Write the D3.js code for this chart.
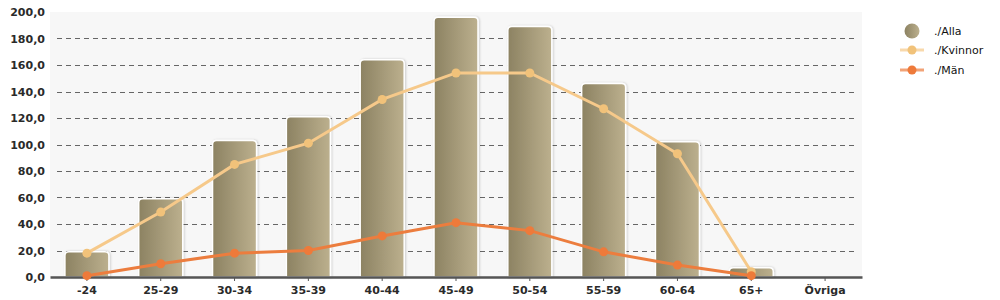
<!DOCTYPE html>
<html>
<head>
<meta charset="utf-8">
<script src="https://cdn.jsdelivr.net/npm/d3@7"></script>
<style>
  body { margin: 0; background: #fff; }
  #outer { width: 1000px; height: 300px; }
</style>
</head>
<body>
<div id="outer"></div>
<script>
// data
const categories = ['-24', '25-29', '30-34', '35-39', '40-44', '45-49', '50-54', '55-59', '60-64', '65+', 'Övriga'];
const alla = [19, 59, 103, 121, 164, 196, 189, 146, 102, 7, 0];
const kvinnor = [18, 49, 85, 101, 134, 154, 154, 127, 93, 4, null];
const man = [1, 10, 18, 20, 31, 41, 35, 19, 9, 1, null];
const yTicks = [0, 20, 40, 60, 80, 100, 120, 140, 160, 180, 200];
const legendNames = ['./Alla', './Kvinnor', './Män'];

const W = 1000, H = 300;
const plot = {left: 50, right: 862, top: 12, bottom: 277};
const barColorDark = '#8c8262', barColorLight = '#bcb08e';
const kvColor = '#f6c98a', kvDot = '#f1c27a';
const manColor = '#ec7d3e', manDot = '#ee7a3a';
const font = '"DejaVu Sans", Verdana, sans-serif';

const svg = d3.select('#outer').append('svg').attr('width', W).attr('height', H);
const defs = svg.append('defs');
const grad = defs.append('linearGradient').attr('id', 'barGrad').attr('x1', 0).attr('x2', 1).attr('y1', 0).attr('y2', 0);
grad.append('stop').attr('offset', '0%').attr('stop-color', barColorDark);
grad.append('stop').attr('offset', '100%').attr('stop-color', barColorLight);
const shadow = defs.append('filter').attr('id', 'shadow').attr('x', '-20%').attr('y', '-20%').attr('width', '140%').attr('height', '140%');
shadow.append('feDropShadow').attr('dx', 1).attr('dy', 0).attr('stdDeviation', 1.2).attr('flood-color', '#000').attr('flood-opacity', 0.18);

const x = d3.scaleBand().domain(categories).range([plot.left, plot.right]).paddingInner(0).paddingOuter(0);
const y = d3.scaleLinear().domain([0, 200]).range([plot.bottom, plot.top]);

// background
svg.append('rect')
	.attr('x', plot.left).attr('y', plot.top)
	.attr('width', plot.right - plot.left).attr('height', plot.bottom - plot.top)
	.attr('fill', '#f7f7f7');

// grid
svg.append('g').selectAll('line').data(yTicks.filter(d => d > 0 && d < 200)).join('line')
	.attr('x1', plot.left + 7).attr('x2', plot.right - 7)
	.attr('y1', d => Math.round(y(d)) + 0.5).attr('y2', d => Math.round(y(d)) + 0.5)
	.attr('stroke', '#666').attr('stroke-width', 1).attr('stroke-dasharray', '5,4');

// y labels
svg.append('g').selectAll('text').data(yTicks).join('text')
	.attr('x', 45).attr('y', d => y(d) + 4)
	.attr('text-anchor', 'end')
	.style('font', 'bold 11px ' + font).attr('fill', '#2a2a2a')
	.text(d => d3.format('.1f')(d).replace('.', ','));

// bars
const barW = 44;
const r = 4;
const barPath = (cx, top, bottom) => {
	const x0 = cx - barW / 2, x1 = cx + barW / 2;
	const h = bottom - top;
	const rr = Math.min(r, h / 2);
	return `M${x0},${bottom}V${top + rr}Q${x0},${top} ${x0 + rr},${top}H${x1 - rr}Q${x1},${top} ${x1},${top + rr}V${bottom}Z`;
};
svg.append('g').selectAll('path').data(alla.map((v, i) => ({v, c: categories[i]})).filter(d => d.v > 0)).join('path')
	.attr('d', d => barPath(x(d.c) + x.bandwidth() / 2, y(d.v), plot.bottom))
	.attr('fill', 'url(#barGrad)')
	.attr('stroke', '#fff').attr('stroke-width', 1.5)
	.attr('filter', 'url(#shadow)');

// axis
const xAxis = svg.append('g').attr('transform', `translate(0,${plot.bottom})`)
	.call(d3.axisBottom(x).tickSize(4).tickSizeOuter(0));
xAxis.select('.domain').attr('stroke', '#555').attr('stroke-width', 2.5);
xAxis.selectAll('.tick line').attr('stroke', '#555').attr('y1', 1);
xAxis.selectAll('.tick text').attr('y', 9).attr('dy', '0.71em')
	.style('font', 'bold 11px ' + font).attr('fill', '#2a2a2a');

// lines
const lineGen = d3.line()
	.defined(d => d.v !== null)
	.x(d => x(d.c) + x.bandwidth() / 2)
	.y(d => y(d.v));
const drawSeries = (vals, col, dotCol) => {
	const pts = vals.map((v, i) => ({v, c: categories[i]}));
	svg.append('path').datum(pts)
		.attr('d', lineGen)
		.attr('fill', 'none').attr('stroke', col).attr('stroke-width', 3);
	svg.append('g').selectAll('circle').data(pts.filter(d => d.v !== null)).join('circle')
		.attr('cx', d => x(d.c) + x.bandwidth() / 2)
		.attr('cy', d => y(d.v))
		.attr('r', 4.5)
		.attr('fill', dotCol);
};
drawSeries(kvinnor, kvColor, kvDot);
drawSeries(man, manColor, manDot);

// legend
const legend = svg.append('g').attr('transform', 'translate(912,0)');
const legY = [31, 50, 70];
legend.append('circle').attr('cx', 0).attr('cy', legY[0]).attr('r', 7.5).attr('fill', 'url(#barGrad)');
[[kvColor, kvDot], [manColor, manDot]].forEach(([c, dc], i) => {
	const yy = legY[i + 1];
	legend.append('line').attr('x1', -12).attr('x2', 12).attr('y1', yy).attr('y2', yy)
		.attr('stroke', c).attr('stroke-width', 3).attr('opacity', 0.7);
	legend.append('circle').attr('cx', 0).attr('cy', yy).attr('r', 4.5).attr('fill', dc);
});
legend.selectAll('text.leg').data(legendNames).join('text')
	.attr('class', 'leg')
	.attr('x', 22).attr('y', (d, i) => legY[i] + 4)
	.style('font', '11px ' + font).attr('fill', '#111')
	.text(d => d);
</script>
</body>
</html>
